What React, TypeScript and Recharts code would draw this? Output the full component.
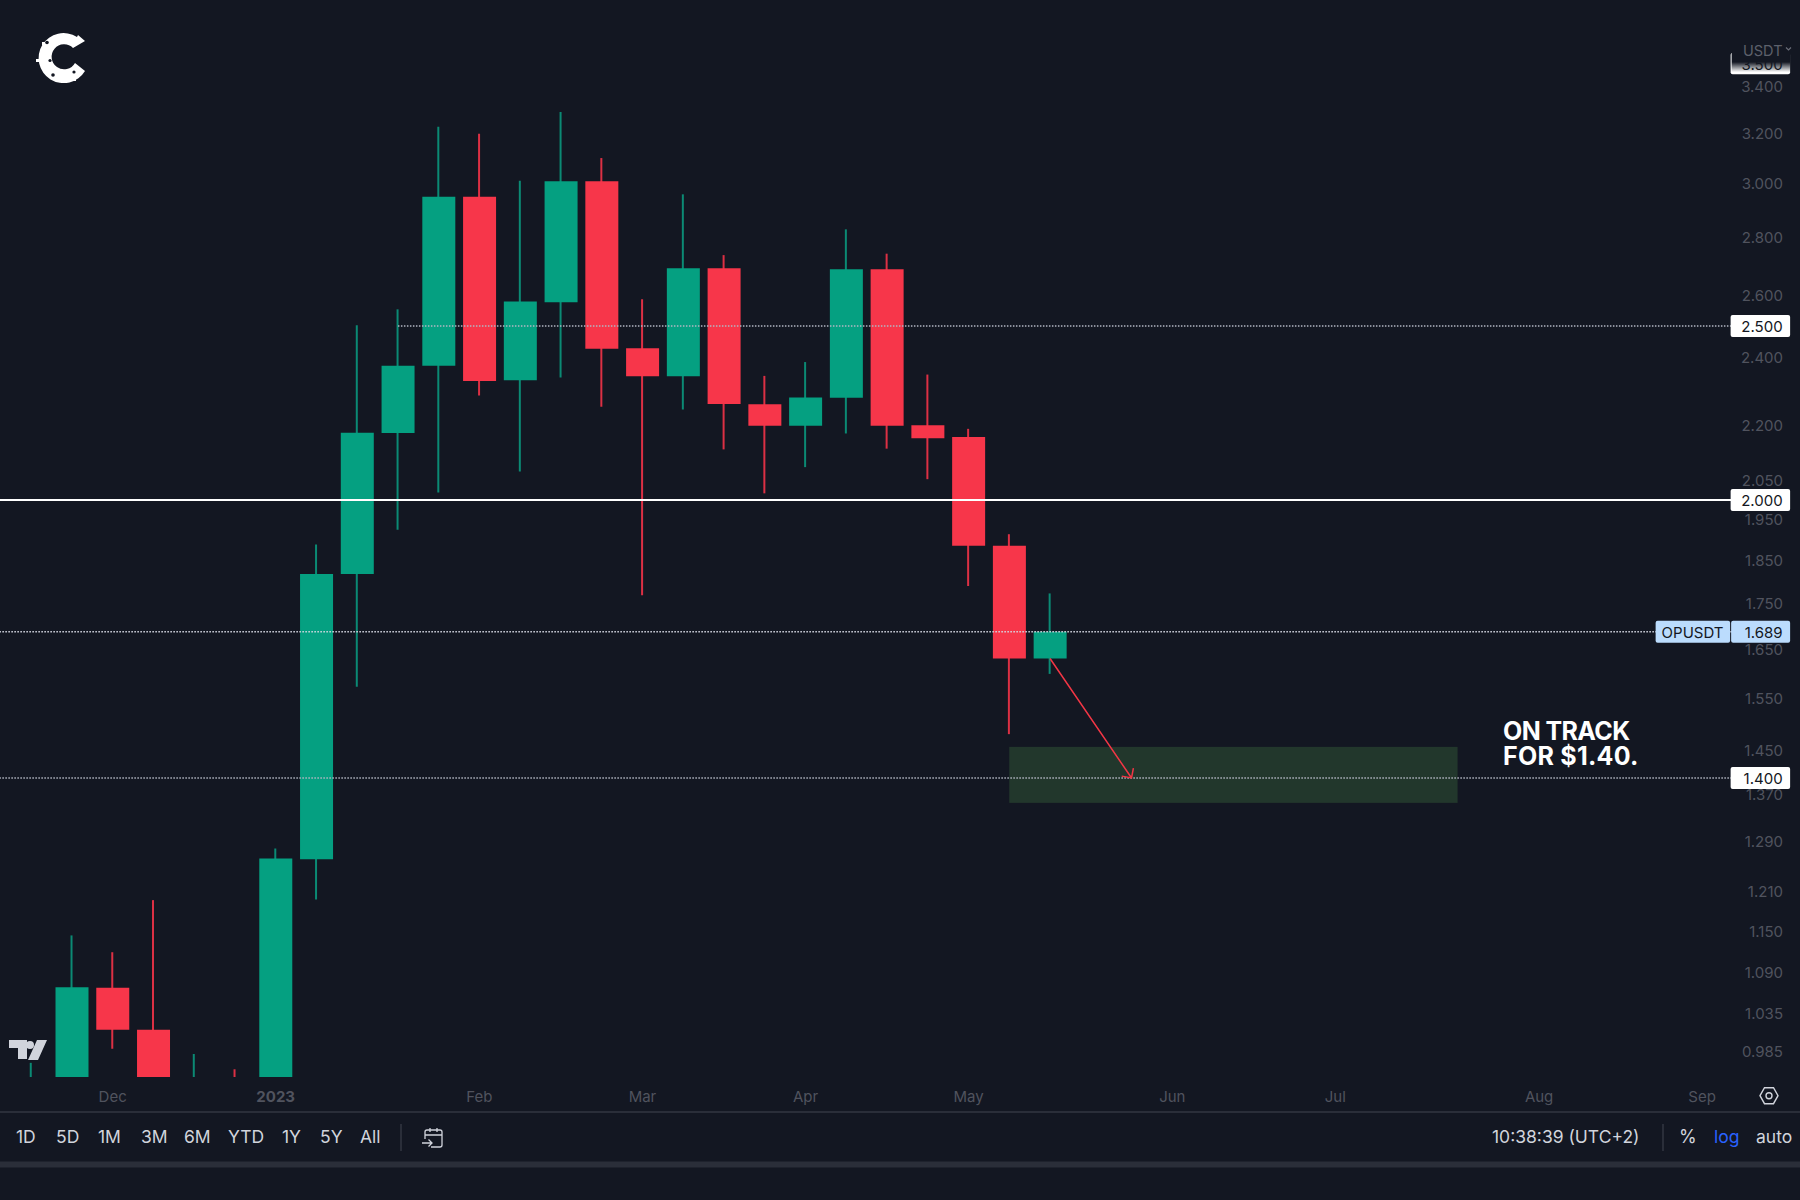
import {
  Bar,
  Cell,
  ComposedChart,
  ReferenceArea,
  ReferenceDot,
  ReferenceLine,
  XAxis,
  YAxis,
} from "recharts";

const BG = "#131722";
const UP = "#05a081";
const DOWN = "#f7364a";
const UP_WICK = "#0b8a74";
const DOWN_WICK = "#dc3044";
const MUTED = "#50535e";
const TEXT = "#d1d4dc";
const FONT = "Inter, sans-serif";

// weekly candles, monday of each week (first and last few are off-screen or empty)
const weeks = [
  "2022-11-14", "2022-11-21", "2022-11-28", "2022-12-05", "2022-12-12", "2022-12-19", "2022-12-26",
  "2023-01-02", "2023-01-09", "2023-01-16", "2023-01-23", "2023-01-30", "2023-02-06", "2023-02-13",
  "2023-02-20", "2023-02-27", "2023-03-06", "2023-03-13", "2023-03-20", "2023-03-27", "2023-04-03",
  "2023-04-10", "2023-04-17", "2023-04-24", "2023-05-01", "2023-05-08", "2023-05-15", "2023-05-22",
  "2023-05-29", "2023-06-05", "2023-06-12", "2023-06-19", "2023-06-26", "2023-07-03", "2023-07-10",
  "2023-07-17", "2023-07-24", "2023-07-31", "2023-08-07", "2023-08-14", "2023-08-21", "2023-08-28",
  "2023-09-04", "2023-09-11", "2023-09-18",
];

const opens = [
  0.90, 0.93, 1.0698, 1.0137, 0.90, 0.93, 0.93, 1.2615, 1.819, 2.179, 2.376, 2.951, 2.332, 2.577, 3.010, 2.43,
  2.344, 2.692, 2.261, 2.2, 2.28, 2.689, 2.201, 2.168, 1.886, 1.632,
];
const closes = [
  0.93, 1.0705, 1.0137, 0.93, 0.93, 0.90, 1.2625, 1.819, 2.18, 2.376, 2.951, 2.33, 2.58, 3.01, 2.428, 2.344,
  2.692, 2.262, 2.2, 2.281, 2.689, 2.2, 2.165, 1.886, 1.632, 1.689,
];
const highs = [
  0.9715, 1.144, 1.1196, 1.197, 0.9826, 0.9635, 1.279, 1.889, 2.502, 2.554, 3.228, 3.199, 3.012, 3.29, 3.101, 2.587,
  2.96, 2.738, 2.345, 2.387, 2.83, 2.743, 2.349, 2.191, 1.914, 1.774,
];
const lows = [
  0.88, 0.90, 0.9892, 0.90, 0.88, 0.88, 0.90, 1.198, 1.574, 1.925, 2.019, 2.287, 2.074, 2.34, 2.254, 1.77,
  2.246, 2.134, 2.017, 2.086, 2.178, 2.136, 2.054, 1.791, 1.481, 1.6,
];

const monthWeeks = ["2022-12-05", "2023-01-02", "2023-02-06", "2023-03-06", "2023-04-03", "2023-05-01", "2023-06-05", "2023-07-03", "2023-08-07", "2023-09-04"];
const monthLabels = ["Dec", "2023", "Feb", "Mar", "Apr", "May", "Jun", "Jul", "Aug", "Sep"];

const priceTicks = [3.4, 3.2, 3.0, 2.8, 2.6, 2.4, 2.2, 2.05, 1.95, 1.85, 1.75, 1.65, 1.55, 1.45, 1.37, 1.29, 1.21, 1.15, 1.09, 1.035, 0.985];
const priceDomain = [0.954, 3.798];

const rangeButtons = ["1D", "5D", "1M", "3M", "6M", "YTD", "1Y", "5Y", "All"];
const rangeButtonLefts = [16, 56, 98, 141, 184, 228, 282, 320, 360];

const rows = weeks.map((week, i) => {
  // the first band sits off-screen, candles start on the second one
  const k = i - 1;
  if (k < 0 || k >= opens.length) return { week };
  return {
    week,
    up: closes[k] >= opens[k],
    wick: [lows[k], highs[k]],
    body: [Math.min(opens[k], closes[k]), Math.max(opens[k], closes[k])],
  };
});

const firstWeek = weeks[0];
const lastWeek = weeks[weeks.length - 1];
const BAND = 1834 / weeks.length;

function MonthTick({ x, y, payload }: any) {
  const label = monthLabels[monthWeeks.indexOf(payload.value)];
  return (
    <text
      x={x}
      y={y + 11}
      textAnchor="middle"
      dominantBaseline="central"
      fill={MUTED}
      fontFamily={FONT}
      fontSize={15}
      fontWeight={label === "2023" ? 700 : 400}
    >
      {label}
    </text>
  );
}

function PriceTag({ cx, cy, label }: any) {
  return (
    <g>
      <rect x={cx - 53} y={cy - 11} width={59.5} height={22} rx={2} fill="#ffffff" />
      <text x={cx - 1} y={cy + 0.5} textAnchor="end" dominantBaseline="central" fill={BG} fontFamily={FONT} fontSize={15}>
        {label}
      </text>
    </g>
  );
}

function LastPriceTag({ cx, cy, symbol, label }: any) {
  return (
    <g>
      <rect x={cx - 128} y={cy - 11} width={74.5} height={22} rx={2} fill="#bbdcfd" />
      <rect x={cx - 52.5} y={cy - 11} width={59} height={22} rx={2} fill="#bbdcfd" />
      <text x={cx - 122} y={cy + 0.5} dominantBaseline="central" fill={BG} fontFamily={FONT} fontSize={15}>
        {symbol}
      </text>
      <text x={cx - 1} y={cy + 0.5} textAnchor="end" dominantBaseline="central" fill={BG} fontFamily={FONT} fontSize={15}>
        {label}
      </text>
    </g>
  );
}

function FadedTag({ cx, cy, label }: any) {
  return (
    <g>
      <defs>
        <linearGradient id="tagFade" x1="0" y1="0" x2="0" y2="1">
          <stop offset="0.48" stopColor={BG} stopOpacity={1} />
          <stop offset="0.95" stopColor={BG} stopOpacity={0} />
        </linearGradient>
      </defs>
      <rect x={cx - 53} y={cy - 11} width={59.5} height={21.5} rx={2} fill="#ffffff" />
      <text x={cx - 1} y={cy + 0.5} textAnchor="end" dominantBaseline="central" fill={BG} fontFamily={FONT} fontSize={15}>
        {label}
      </text>
      <rect x={cx - 52} y={cy - 12} width={59} height={21.5} fill="url(#tagFade)" />
    </g>
  );
}

function Arrow({ x1, y1, x2, y2 }: any) {
  const back = Math.atan2(y1 - y2, x1 - x2);
  const barb = (a: number) => `${x2 + 10 * Math.cos(back + a)} ${y2 + 10 * Math.sin(back + a)}`;
  return (
    <path
      d={`M${x1} ${y1}L${x2} ${y2}M${barb(Math.PI / 4)}L${x2} ${y2}L${barb(-Math.PI / 4)}`}
      fill="none"
      stroke="#f23645"
      strokeWidth={1.5}
    />
  );
}

// the zone runs from candle centre to candle centre, not band edge to band edge
function Zone({ x, y, width, height }: any) {
  return <rect x={x + BAND / 2} y={y} width={width - BAND} height={height} fill="#22372c" />;
}

function Chart() {
  return (
    <ComposedChart width={1834} height={1110} data={rows} margin={{ top: 0, right: 0, bottom: 0, left: 0 }}>
      <XAxis
        dataKey="week"
        ticks={monthWeeks}
        interval={0}
        tick={<MonthTick />}
        tickLine={false}
        axisLine={false}
        height={33}
      />
      <XAxis dataKey="week" xAxisId="wick" hide />
      <YAxis
        orientation="right"
        mirror
        width={60}
        scale="log"
        domain={priceDomain}
        allowDataOverflow
        ticks={priceTicks}
        interval={0}
        tickFormatter={(v: number) => v.toFixed(3)}
        tick={{ fill: MUTED, fontSize: 15, fontFamily: FONT }}
        tickLine={false}
        tickSize={0}
        tickMargin={21}
        axisLine={false}
      />
      <ReferenceArea x1="2023-05-08" x2="2023-07-24" y1={1.457} y2={1.356} shape={<Zone />} />
      <ReferenceLine segment={[{ x: "2023-01-23", y: 2.5 }, { x: lastWeek, y: 2.5 }]} stroke="#b2b6c2" strokeWidth={1.3} strokeDasharray="1.5 1.5" />
      <ReferenceLine segment={[{ x: firstWeek, y: 2 }, { x: lastWeek, y: 2 }]} stroke="#ffffff" strokeWidth={2} />
      <ReferenceLine segment={[{ x: firstWeek, y: 1.4 }, { x: lastWeek, y: 1.4 }]} stroke="#b2b6c2" strokeWidth={1.3} strokeDasharray="1.5 1.5" />
      <Bar dataKey="wick" xAxisId="wick" barSize={2} isAnimationActive={false}>
        {rows.map((r: any) => (
          <Cell key={r.week} fill={r.up ? UP_WICK : DOWN_WICK} />
        ))}
      </Bar>
      <Bar dataKey="body" barSize={33} isAnimationActive={false}>
        {rows.map((r: any) => (
          <Cell key={r.week} fill={r.up ? UP : DOWN} />
        ))}
      </Bar>
      <ReferenceLine segment={[{ x: firstWeek, y: 1.689 }, { x: lastWeek, y: 1.689 }]} stroke="#d5d9e3" strokeWidth={1.5} strokeDasharray="1.5 1.5" zIndex={900} />
      <ReferenceLine segment={[{ x: "2023-05-15", y: 1.632 }, { x: "2023-05-29", y: 1.4 }]} shape={<Arrow />} zIndex={900} />
      <ReferenceDot x={lastWeek} y={3.5} r={1} shape={<FadedTag label="3.500" />} zIndex={950} />
      <ReferenceDot x={lastWeek} y={2.5} r={1} shape={<PriceTag label="2.500" />} zIndex={950} />
      <ReferenceDot x={lastWeek} y={2} r={1} shape={<PriceTag label="2.000" />} zIndex={950} />
      <ReferenceDot x={lastWeek} y={1.689} r={1} shape={<LastPriceTag symbol="OPUSDT" label="1.689" />} zIndex={950} />
      <ReferenceDot x={lastWeek} y={1.4} r={1} shape={<PriceTag label="1.400" />} zIndex={950} />
    </ComposedChart>
  );
}

function label(left: number, top: number, text: string, style: any = {}) {
  return (
    <div style={{ position: "absolute", left, top, color: TEXT, fontSize: 17.5, lineHeight: "24px", whiteSpace: "nowrap", ...style }}>
      {text}
    </div>
  );
}

export default function App() {
  return (
    <div style={{ position: "absolute", left: 0, top: 0, width: 1800, height: 1200, overflow: "hidden", background: BG, fontFamily: FONT }}>
      <div style={{ position: "absolute", left: -30.5, top: 0 }}>
        <Chart />
      </div>

      {/* logos, gear and toolbar icons */}
      <svg width={1800} height={1200} style={{ position: "absolute", left: 0, top: 0 }}>
        <path
          d="M77 37 A25 25 0 1 0 85 71 L75 63 A12.5 12.5 0 1 1 73 48 L85 41 L78 35 Z"
          fill="#ffffff"
        />
        <path d="M42 42h5v3h-5zM36 59h6v3h-6zM70 79h6v2h-6z" fill="#ffffff" />
        <circle cx={47} cy={42.5} r={1.8} fill={BG} />
        <circle cx={50} cy={60.5} r={1.6} fill={BG} />
        <circle cx={53} cy={75} r={1.8} fill={BG} />
        <circle cx={74} cy={72} r={1.6} fill={BG} />

        <path d="M9 1040h18v19h-9v-11h-9zM37 1040h10l-9 20h-10z" fill={TEXT} />
        <circle cx={30} cy={1045} r={4} fill={TEXT} />

        <path d="M1760 1095.7l4.5-8h9l4.500 8l-4.500 8h-9z" fill="none" stroke={TEXT} strokeWidth={1.4} />
        <circle cx={1769} cy={1095.7} r={3} fill="none" stroke={TEXT} strokeWidth={1.4} />

        <rect x={0} y={1111} width={1800} height={2} fill="#2a2e39" />
        <rect x={0} y={1161.5} width={1800} height={6} fill="#2a2e39" />
        <rect x={400.5} y={1124} width={1} height={27} fill="#434651" />
        <rect x={1662.5} y={1124} width={1} height={27} fill="#434651" />

        <path
          d="M425 1139v-7a2 2 0 0 1 2-2h13a2 2 0 0 1 2 2v13a2 2 0 0 1-2 2h-9M425 1135h17M430 1128v4M437 1128v4M422 1143h10M428.500 1139.500l3.500 3.500l-3.500 3.500"
          fill="none"
          stroke={TEXT}
          strokeWidth={1.3}
        />
        <path d="M1786 47.500l2.500 2.500l2.500-2.500" fill="none" stroke="#6a6d78" strokeWidth={1.2} />
      </svg>

      {label(1743, 41, "USDT", { color: "#5d606b", fontSize: 14.5, lineHeight: "20px" })}

      <div style={{ position: "absolute", left: 1503, top: 719, color: "#ffffff", fontSize: 25, fontWeight: 700, lineHeight: "25px", whiteSpace: "nowrap" }}>
        <div style={{ letterSpacing: -0.6 }}>ON TRACK</div>
        <div style={{ letterSpacing: 0.25 }}>FOR $1.40.</div>
      </div>

      {rangeButtons.map((b, i) => (
        <div key={b} style={{ position: "absolute", left: rangeButtonLefts[i], top: 1125, color: TEXT, fontSize: 17.5, lineHeight: "24px" }}>
          {b}
        </div>
      ))}
      {label(1492, 1125, "10:38:39 (UTC+2)")}
      {label(1679, 1125, "%", { fontSize: 18 })}
      {label(1714, 1125, "log", { color: "#2962ff" })}
      {label(1756, 1125, "auto")}
    </div>
  );
}
